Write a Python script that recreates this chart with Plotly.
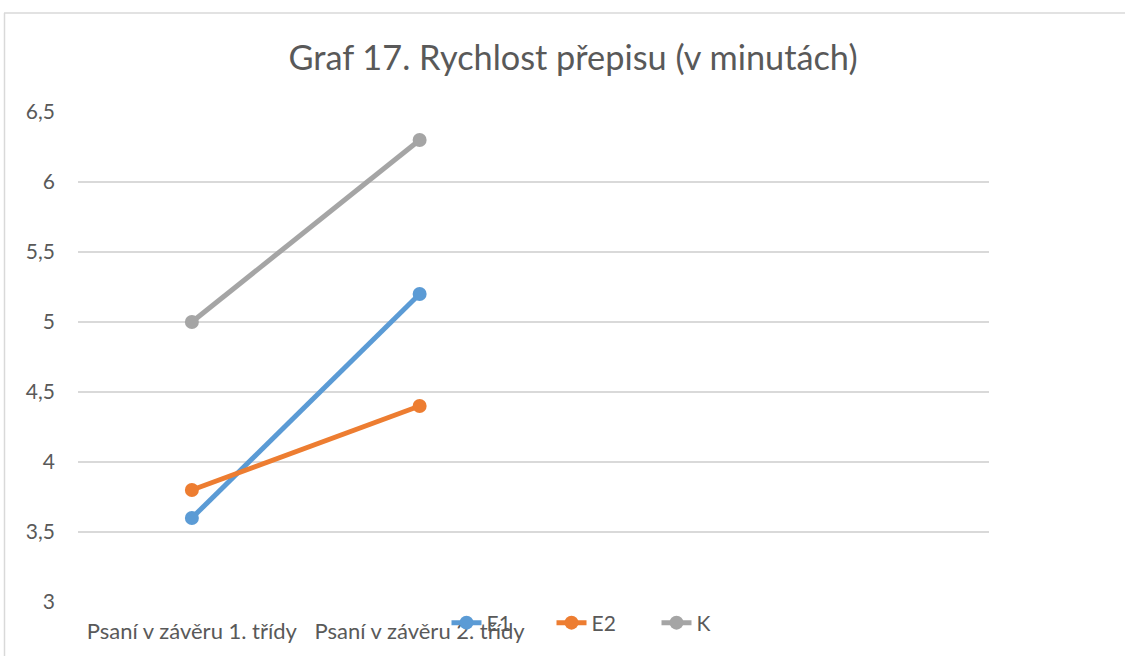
import plotly.graph_objects as go

categories = ["Psaní v závěru 1. třídy", "Psaní v závěru 2. třídy"]
series_names = ["E1", "E2", "K"]
e1_values = [3.6, 5.2]
e2_values = [3.8, 4.4]
k_values = [5.0, 6.3]
y_ticks = [3, 3.5, 4, 4.5, 5, 5.5, 6, 6.5]
y_tick_labels = ["3", "3,5", "4", "4,5", "5", "5,5", "6", "6,5"]

colors = ["#5B9BD5", "#ED7D31", "#A5A5A5"]
values = [e1_values, e2_values, k_values]

fig = go.Figure()
for name, vals, col in zip(series_names, values, colors):
    fig.add_trace(go.Scatter(
        x=categories, y=vals, name=name, mode="lines+markers",
        line=dict(color=col, width=5),
        marker=dict(color=col, size=14),
    ))

W, H = 1125, 656
L, R, T, B = 78, 989, 112, 602
pw, ph = R - L, B - T

def px_x(p):
    return (p - L) / pw

def px_y(p):
    return (B - p) / ph

fig.update_layout(
    width=W, height=H,
    margin=dict(l=L, r=W - R, t=T, b=H - B),
    paper_bgcolor="white", plot_bgcolor="white",
    font=dict(family="Lato, Open Sans, sans-serif", color="#595959"),
    title=dict(text="Graf 17. Rychlost přepisu (v minutách)", x=573 / W,
               xanchor="center", y=1 - 58 / H, yanchor="middle",
               font=dict(size=34.3, color="#595959")),
    showlegend=True,
    legend=dict(orientation="h", x=px_x(604), xanchor="center", y=px_y(623), yanchor="middle",
                font=dict(size=21, color="#595959"), bgcolor="rgba(0,0,0,0)",
                entrywidth=60, entrywidthmode="pixels"),
    xaxis=dict(type="category", categoryarray=categories, range=[-0.5, 3.5],
               showgrid=False, showline=False, zeroline=False, ticks="",
               ticklabelstandoff=14,
               tickfont=dict(size=22, color="#595959")),
    yaxis=dict(range=[3, 6.5], tickvals=y_ticks, ticktext=y_tick_labels,
               showgrid=True, gridcolor="#D9D9D9", gridwidth=1.5, zeroline=False,
               showline=False, ticks="", ticklabelstandoff=22,
               tickfont=dict(size=21, color="#595959")),
    shapes=[
        dict(type="line", xref="paper", yref="paper", x0=px_x(4), x1=px_x(1130),
             y0=px_y(13), y1=px_y(13), line=dict(color="#D9D9D9", width=1.5)),
        dict(type="line", xref="paper", yref="paper", x0=px_x(4.5), x1=px_x(4.5),
             y0=px_y(13), y1=px_y(660), line=dict(color="#D9D9D9", width=1.5)),
    ],
)

fig.write_html("out.html", config={"displayModeBar": False},
               post_script="document.body.style.margin='0px';")
